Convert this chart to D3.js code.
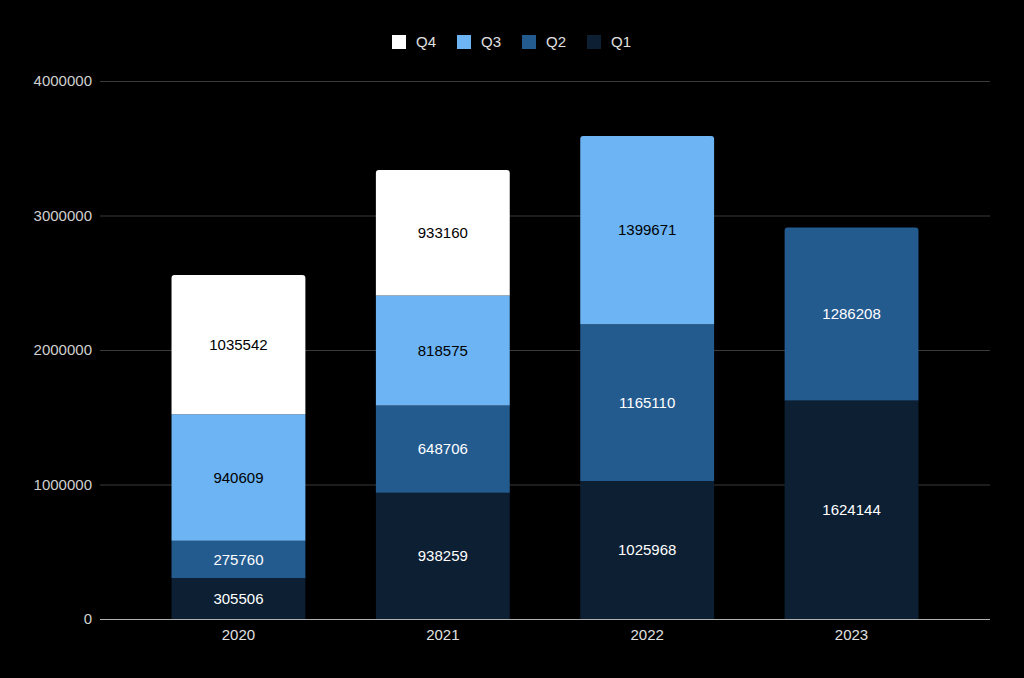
<!DOCTYPE html>
<html>
<head>
<script src="https://d3js.org/d3.v7.min.js"></script>
<style>
  body { margin: 0; background: #000; }
  text { font-family: "Liberation Sans", Arial, sans-serif; }
</style>
</head>
<body>
<script>
  var width = 1024;
  var height = 678;

  var years = ["2020", "2021", "2022", "2023"];
  var q1 = [305506, 938259, 1025968, 1624144];
  var q2 = [275760, 648706, 1165110, 1286208];
  var q3 = [940609, 818575, 1399671, 0];
  var q4 = [1035542, 933160, 0, 0];
  var yTicks = [0, 1000000, 2000000, 3000000, 4000000];

  var series = ["Q1", "Q2", "Q3", "Q4"];
  var colors = { Q1: "#0c1f33", Q2: "#245b8f", Q3: "#6cb4f3", Q4: "#ffffff" };
  var labelColors = { Q1: "#ffffff", Q2: "#ffffff", Q3: "#000000", Q4: "#000000" };

  var rows = years.map(function(y, i) {
    return { year: y, Q1: q1[i], Q2: q2[i], Q3: q3[i], Q4: q4[i] };
  });

  var svg = d3.select("body").append("svg")
    .attr("width", width)
    .attr("height", height)
    .style("background", "#000");

  var x = d3.scaleBand().domain(years).range([100, 990])
    .paddingInner(0.345).paddingOuter(0.35);
  var y = d3.scaleLinear().domain([0, 4000000]).range([619, 81]);

  // gridlines
  svg.selectAll(".grid").data(yTicks.slice(1)).enter()
    .append("line")
    .attr("x1", 100).attr("x2", 990)
    .attr("y1", function(d) { return y(d) + 0.5; })
    .attr("y2", function(d) { return y(d) + 0.5; })
    .style("stroke", "#3a3a3a")
    .style("stroke-width", 1);

  // y labels
  svg.selectAll(".ylab").data(yTicks).enter()
    .append("text")
    .attr("x", 92)
    .attr("y", function(d) { return y(d); })
    .attr("dy", "0.35em")
    .attr("text-anchor", "end")
    .style("fill", "#d0d0d0")
    .style("font-size", "15px")
    .text(function(d) { return d; });

  var stack = d3.stack().keys(series)(rows);

  function topIndex(i) {
    var k = -1;
    series.forEach(function(s, j) { if (rows[i][s] > 0) k = j; });
    return k;
  }

  function barPath(x0, w, y0, y1, r) {
    // rounded top corners
    return "M" + x0 + "," + y0 +
      "V" + (y1 + r) +
      "Q" + x0 + "," + y1 + " " + (x0 + r) + "," + y1 +
      "H" + (x0 + w - r) +
      "Q" + (x0 + w) + "," + y1 + " " + (x0 + w) + "," + (y1 + r) +
      "V" + y0 + "Z";
  }

  stack.forEach(function(layer, j) {
    var key = layer.key;
    var g = svg.append("g");
    layer.forEach(function(d, i) {
      var v = d[1] - d[0];
      if (v <= 0) return;
      var x0 = x(years[i]), w = x.bandwidth();
      var r = topIndex(i) === j ? 3 : 0;
      g.append("path")
        .attr("d", barPath(x0, w, y(d[0]), y(d[1]), r))
        .style("fill", colors[key]);
      g.append("text")
        .attr("x", x0 + w / 2)
        .attr("y", (y(d[0]) + y(d[1])) / 2)
        .attr("dy", "0.35em")
        .attr("text-anchor", "middle")
        .style("fill", labelColors[key])
        .style("font-size", "15px")
        .text(v);
    });
  });

  // baseline
  svg.append("line")
    .attr("x1", 100).attr("x2", 990)
    .attr("y1", y(0) + 0.5).attr("y2", y(0) + 0.5)
    .style("stroke", "#b0b0b0")
    .style("stroke-width", 1);

  // x labels
  svg.selectAll(".xlab").data(years).enter()
    .append("text")
    .attr("x", function(d) { return x(d) + x.bandwidth() / 2; })
    .attr("y", 635)
    .attr("dy", "0.35em")
    .attr("text-anchor", "middle")
    .style("fill", "#e0e0e0")
    .style("font-size", "15px")
    .text(function(d) { return d; });

  // legend
  var legendKeys = ["Q4", "Q3", "Q2", "Q1"];
  var leg = svg.selectAll(".leg").data(legendKeys).enter()
    .append("g")
    .attr("transform", function(d, i) { return "translate(" + (392 + i * 65) + ",35)"; });
  leg.append("rect")
    .attr("width", 14).attr("height", 14)
    .style("fill", function(d) { return colors[d]; });
  leg.append("text")
    .attr("x", 24).attr("y", 7)
    .attr("dy", "0.35em")
    .style("fill", "#e0e0e0")
    .style("font-size", "15px")
    .text(function(d) { return d; });
</script>
</body>
</html>
